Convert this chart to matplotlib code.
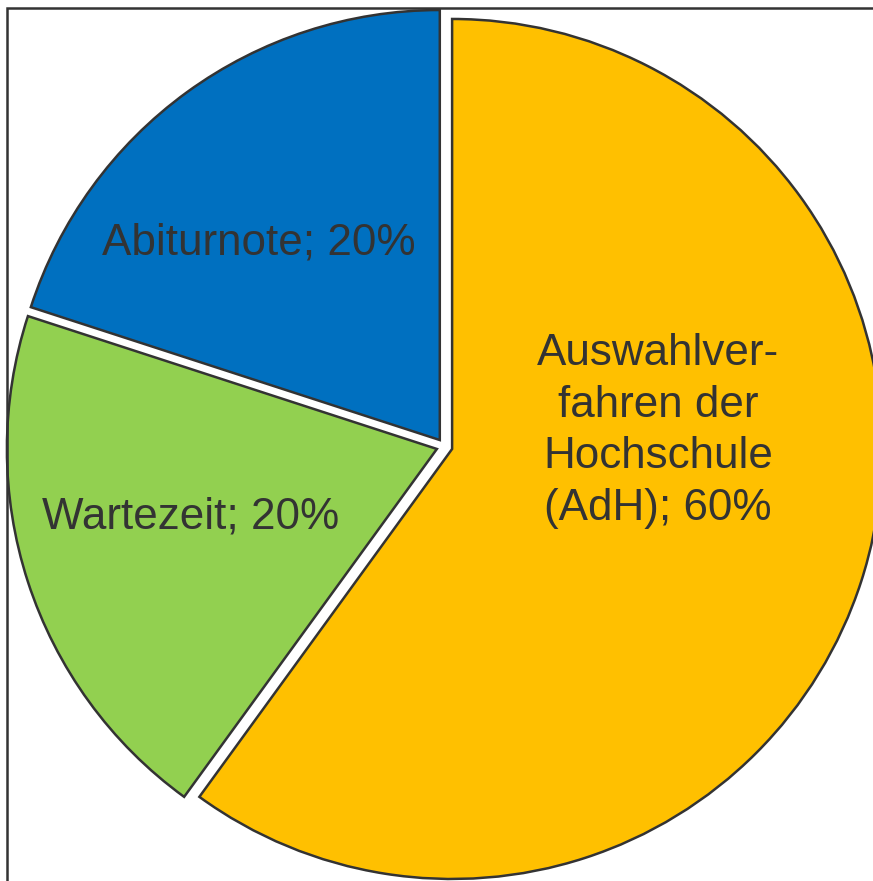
import matplotlib.pyplot as plt
from matplotlib.patches import Rectangle

plt.rcParams.update({"font.family": ["Liberation Sans", "DejaVu Sans"]})

# slice data, drawn clockwise from 12 o'clock
shares = [60, 20, 20]
colors = ["#FFC000", "#92D050", "#0070C0"]
label_lines = [
    ["Auswahlver-", "fahren der", "Hochschule", "(AdH); 60%"],
    ["Wartezeit; 20%"],
    ["Abiturnote; 20%"],
]

W, H = 873, 881
fig = plt.figure(figsize=(W / 100, H / 100), dpi=100)
ax = fig.add_axes([0, 0, 1, 1])

center = (444.5, H - 446.5)
radius = 430
# explode is in data units here (pixels), not a fraction of the radius
ax.pie(
    shares,
    colors=colors,
    startangle=90,
    counterclock=False,
    explode=[8] * len(shares),
    center=center,
    radius=radius,
    frame=True,
    wedgeprops={"edgecolor": "#333333", "linewidth": 1.8},
)
ax.set_xlim(0, W)
ax.set_ylim(0, H)
ax.set_aspect("equal")
ax.axis("off")

# outer frame (only left and top edges are visible in the reference)
ax.add_patch(Rectangle((7, -50), 1000, H - 8 + 50, fill=False, edgecolor="#333333", linewidth=1.8))

# labels: (x centre, first baseline in image px, step)
label_pos = [(658, 365, 51.7), (190.5, 528, 0), (259, 254, 0)]
for lines, (x, y0, step) in zip(label_lines, label_pos):
    for i, line in enumerate(lines):
        ax.text(x, H - (y0 + i * step), line, ha="center", va="baseline",
                fontsize=31.7, color="#333333")

fig.savefig("out.png", dpi=100)
